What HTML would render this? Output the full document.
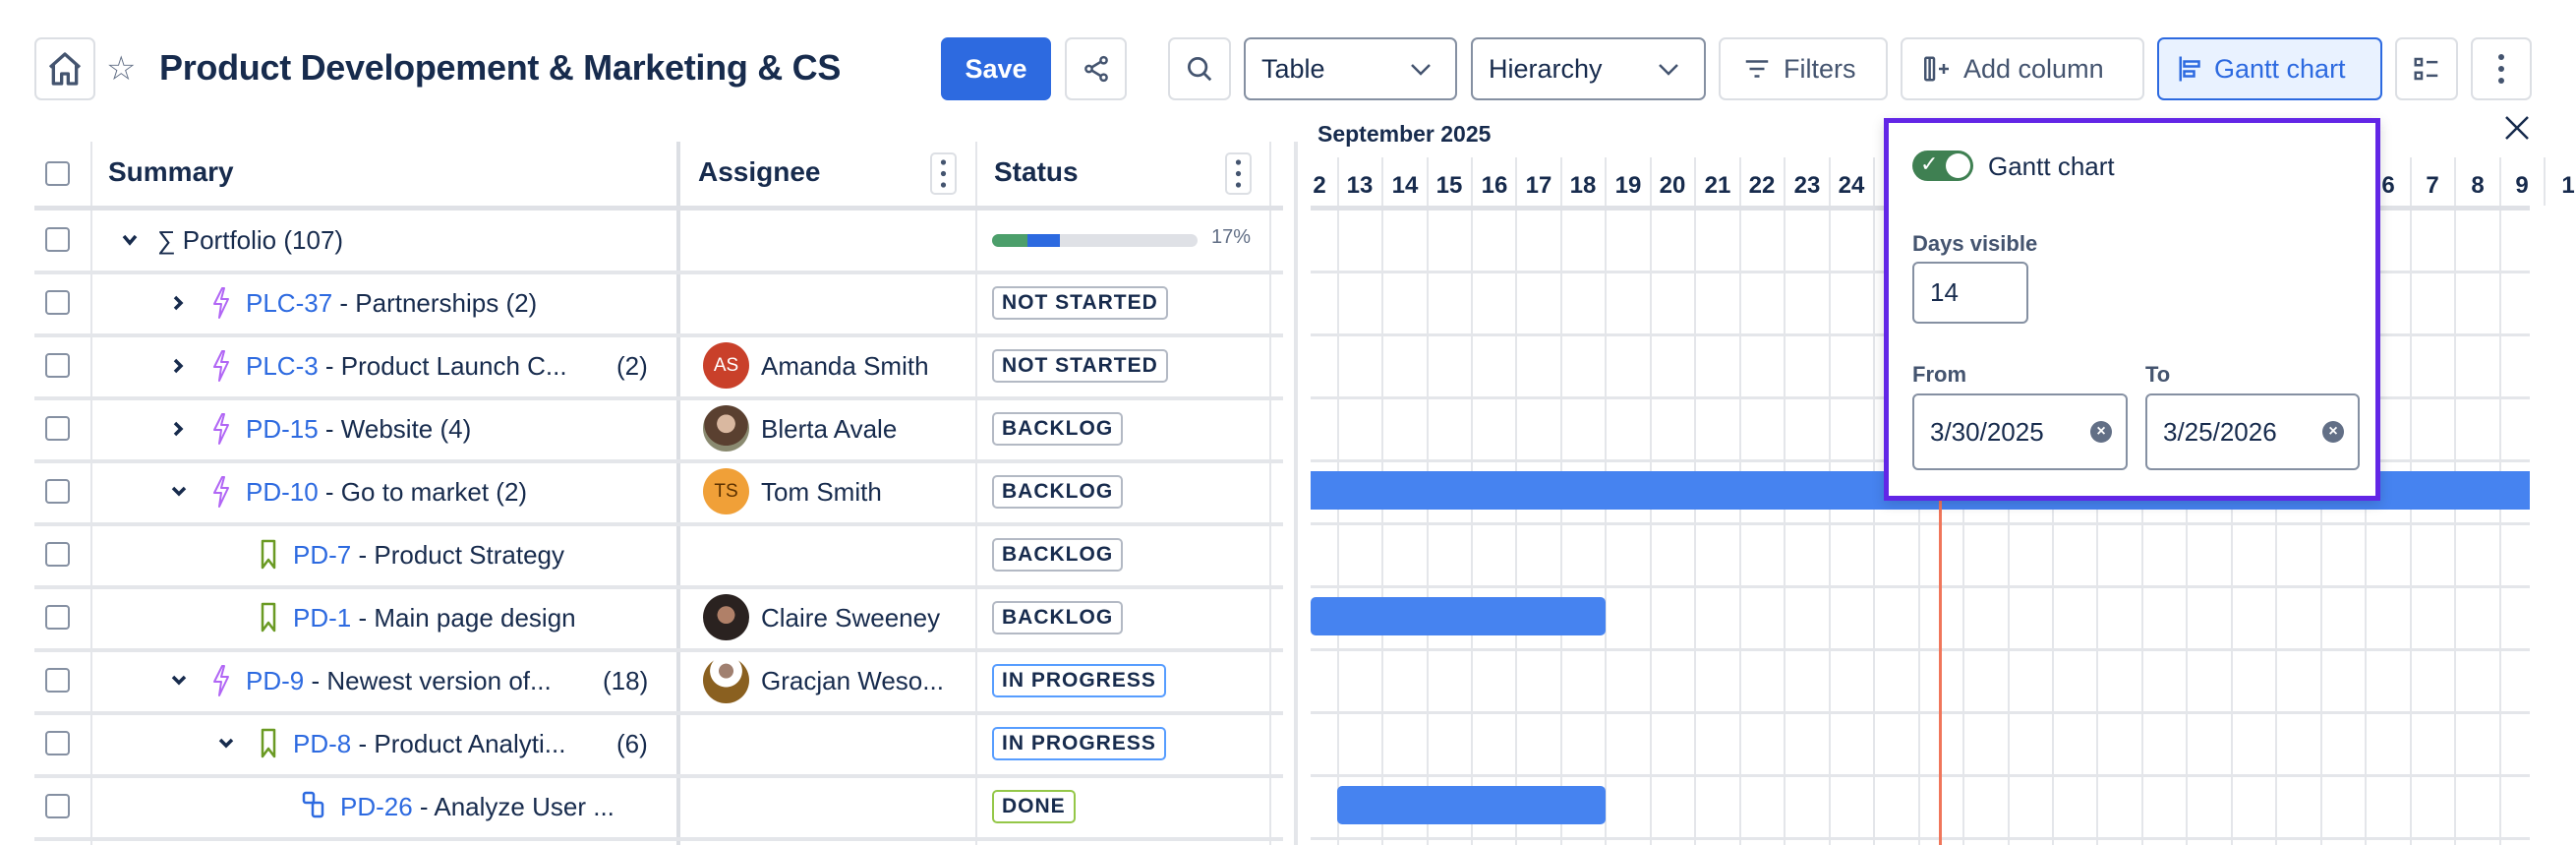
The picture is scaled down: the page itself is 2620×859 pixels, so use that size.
<!DOCTYPE html>
<html><head><meta charset="utf-8"><style>
*{box-sizing:border-box;margin:0;padding:0}
body{width:2620px;height:859px;overflow:hidden;background:#fff;font-family:"Liberation Sans",sans-serif;color:#172b4d;position:relative}
.a{position:absolute}
.btn{position:absolute;top:38px;height:64px;border:2px solid #dcdfe4;border-radius:7px;background:#fff;display:flex;align-items:center;font-size:27px;color:#44546f}
.dd{border-color:#8590a2;color:#172b4d;padding-left:16px}
.cb{position:absolute;left:46px;width:25px;height:25px;border:2.5px solid #8590a2;border-radius:4px;background:#fff}
.row{position:absolute;left:35px;width:1270px;height:4px;background:#e4e6ea}
.t{position:absolute;font-size:26px;white-space:nowrap;color:#172b4d;line-height:30px}
.k{color:#2d6ae0}
.loz{position:absolute;left:1009px;height:34px;border:2px solid #b3b9c4;border-radius:5px;font-size:21px;font-weight:bold;letter-spacing:1px;display:flex;align-items:center;padding:0 8px;color:#172b4d}
.av{position:absolute;left:715px;width:47px;height:47px;border-radius:50%;color:#fff;font-size:19px;display:flex;align-items:center;justify-content:center}
.inp{position:absolute;border:2px solid #8590a2;border-radius:6px;background:#fff;font-size:26px;display:flex;align-items:center;padding-left:16px}
.clr{position:absolute;width:22px;height:22px;border-radius:50%;background:#626f86;color:#fff;font-size:16px;font-weight:bold;display:flex;align-items:center;justify-content:center}
</style></head><body>

<!-- toolbar -->
<div class="btn" style="left:35px;width:62px;justify-content:center"><svg width="40" height="40" viewBox="0 0 24 24"><path d="M3 11 L12 3 L21 11 M5 9.5 V21 H10 V15 H14 V21 H19 V9.5" fill="none" stroke="#44546f" stroke-width="2" stroke-linejoin="round"/></svg></div>
<div class="a" style="left:108px;top:50px;font-size:34px;color:#626f86">☆</div>
<div class="a" style="left:162px;top:48px;font-size:36px;font-weight:bold;color:#172b4d;letter-spacing:-0.3px">Product Developement &amp; Marketing &amp; CS</div>
<div class="btn" style="left:957px;width:112px;background:#2d6ae0;border-color:#2d6ae0;color:#fff;font-weight:bold;justify-content:center">Save</div>
<div class="btn" style="left:1083px;width:63px;justify-content:center"><svg width="30" height="30" viewBox="0 0 24 24" fill="none" stroke="#44546f" stroke-width="2"><circle cx="18" cy="5" r="2.5"/><circle cx="6" cy="12" r="2.5"/><circle cx="18" cy="19" r="2.5"/><path d="M8.2 10.8 L15.8 6.2 M8.2 13.2 L15.8 17.8"/></svg></div>
<div class="btn" style="left:1188px;width:64px;justify-content:center"><svg width="30" height="30" viewBox="0 0 24 24" fill="none" stroke="#44546f" stroke-width="2.2"><circle cx="10.5" cy="10.5" r="7"/><path d="M15.5 15.5 L21 21"/></svg></div>
<div class="btn dd" style="left:1265px;width:217px">Table<svg class="a" style="left:167px;top:24px" width="22" height="14" viewBox="0 0 22 14"><path d="M2 2 L11 11 L20 2" fill="none" stroke="#44546f" stroke-width="2.5"/></svg></div>
<div class="btn dd" style="left:1496px;width:239px">Hierarchy<svg class="a" style="left:188px;top:24px" width="22" height="14" viewBox="0 0 22 14"><path d="M2 2 L11 11 L20 2" fill="none" stroke="#44546f" stroke-width="2.5"/></svg></div>
<div class="btn" style="left:1748px;width:172px;padding-left:22px"><svg width="30" height="30" viewBox="0 0 24 24" stroke="#44546f" stroke-width="2"><path d="M3 6H21M6 12H18M10 18H14"/></svg><span style="margin-left:12px">Filters</span></div>
<div class="btn" style="left:1933px;width:248px;padding-left:20px"><svg width="34" height="30" viewBox="0 0 26 24" fill="none" stroke="#44546f" stroke-width="2"><rect x="2" y="3" width="7" height="18" rx="1"/><path d="M5.5 3V21M13 12H21M17 8V16"/></svg><span style="margin-left:8px">Add column</span></div>
<div class="btn" style="left:2194px;width:229px;background:#e9f2ff;border-color:#2d6ae0;color:#2d6ae0;padding-left:18px"><svg width="30" height="32" viewBox="0 0 24 24" fill="none" stroke="#2d6ae0" stroke-width="2"><path d="M3 2V22"/><rect x="6" y="6" width="12" height="4"/><rect x="6" y="14" width="8" height="4"/></svg><span style="margin-left:8px">Gantt chart</span></div>
<div class="btn" style="left:2436px;width:64px;justify-content:center"><svg width="30" height="30" viewBox="0 0 24 24" fill="none" stroke="#44546f" stroke-width="2"><rect x="3" y="4" width="5" height="5"/><rect x="3" y="15" width="5" height="5"/><path d="M12 6.5H21M12 17.5H21"/></svg></div>
<div class="btn" style="left:2513px;width:62px;justify-content:center"><svg width="8" height="34" viewBox="0 0 8 34" fill="#44546f"><circle cx="4" cy="5" r="3"/><circle cx="4" cy="17" r="3"/><circle cx="4" cy="29" r="3"/></svg></div>

<!-- table header -->
<div class="cb" style="top:164px"></div>
<div class="t" style="left:110px;top:160px;font-size:28px;font-weight:bold">Summary</div>
<div class="t" style="left:710px;top:160px;font-size:28px;font-weight:bold">Assignee</div>
<div class="t" style="left:1011px;top:160px;font-size:28px;font-weight:bold">Status</div>
<div class="a" style="left:946px;top:155px;width:27px;height:43px;border:2px solid #dcdfe4;border-radius:5px"><svg width="23" height="39" viewBox="0 0 23 39" fill="#44546f"><circle cx="11.5" cy="8" r="2.6"/><circle cx="11.5" cy="19.5" r="2.6"/><circle cx="11.5" cy="31" r="2.6"/></svg></div>
<div class="a" style="left:1246px;top:155px;width:27px;height:43px;border:2px solid #dcdfe4;border-radius:5px"><svg width="23" height="39" viewBox="0 0 23 39" fill="#44546f"><circle cx="11.5" cy="8" r="2.6"/><circle cx="11.5" cy="19.5" r="2.6"/><circle cx="11.5" cy="31" r="2.6"/></svg></div>

<!-- column separators -->
<div class="a" style="left:92px;top:144px;width:2px;height:715px;background:#e4e6ea"></div>
<div class="a" style="left:688px;top:144px;width:4px;height:715px;background:#dcdfe4"></div>
<div class="a" style="left:992px;top:144px;width:2px;height:715px;background:#e4e6ea"></div>
<div class="a" style="left:1291px;top:144px;width:2px;height:715px;background:#e4e6ea"></div>
<div class="a" style="left:1316px;top:144px;width:4px;height:715px;background:#e4e6ea"></div>

<!-- row lines -->
<div class="row" style="top:209px;height:5px;background:#dfe1e6"></div>
<div class="row" style="top:275px"></div><div class="row" style="top:339px"></div><div class="row" style="top:403px"></div>
<div class="row" style="top:467px"></div><div class="row" style="top:531px"></div><div class="row" style="top:595px"></div>
<div class="row" style="top:659px"></div><div class="row" style="top:723px"></div><div class="row" style="top:787px"></div><div class="row" style="top:851px"></div>

<!-- checkboxes -->
<div class="cb" style="top:231px"></div><div class="cb" style="top:295px"></div><div class="cb" style="top:359px"></div>
<div class="cb" style="top:423px"></div><div class="cb" style="top:487px"></div><div class="cb" style="top:551px"></div>
<div class="cb" style="top:615px"></div><div class="cb" style="top:679px"></div><div class="cb" style="top:743px"></div><div class="cb" style="top:807px"></div>

<svg class="a" style="left:0;top:0" width="1320" height="859">
<defs>
<path id="bolt" d="M8 0 L0 16 L7 16 L5 30 L14 11 L7 11 L10 0 Z" fill="none" stroke="#b166f5" stroke-width="2" stroke-linejoin="round"/>
<path id="bm" d="M1 1 H13 V28 L7 20 L1 28 Z" fill="none" stroke="#6a9a23" stroke-width="2.5" stroke-linejoin="round"/>
</defs>
<path d="M126 240 L132 247 L138 240" fill="none" stroke="#172b4d" stroke-width="3.5"/>
<path d="M178 302 L184 308 L178 314" fill="none" stroke="#172b4d" stroke-width="3.5"/>
<path d="M178 366 L184 372 L178 378" fill="none" stroke="#172b4d" stroke-width="3.5"/>
<path d="M178 430 L184 436 L178 442" fill="none" stroke="#172b4d" stroke-width="3.5"/>
<path d="M176 496 L182 502 L188 496" fill="none" stroke="#172b4d" stroke-width="3.5"/>
<path d="M176 688 L182 694 L188 688" fill="none" stroke="#172b4d" stroke-width="3.5"/>
<path d="M224 752 L230 758 L236 752" fill="none" stroke="#172b4d" stroke-width="3.5"/>
<use href="#bolt" x="218" y="293"/><use href="#bolt" x="218" y="357"/><use href="#bolt" x="218" y="421"/>
<use href="#bolt" x="218" y="485"/><use href="#bolt" x="218" y="677"/>
<use href="#bm" x="266" y="549"/><use href="#bm" x="266" y="613"/><use href="#bm" x="266" y="741"/>
<g fill="none" stroke="#2d6ae0" stroke-width="2.5"><rect x="309" y="806" width="10" height="10" rx="2"/><rect x="318" y="816" width="10" height="14" rx="2"/></g>
<rect x="1009" y="238" width="209" height="13" rx="6.5" fill="#dfe1e6"/>
<path d="M1015.5 238 H1045 V251 H1015.5 A6.5 6.5 0 0 1 1015.5 238Z" fill="#4c9f6b"/>
<rect x="1045" y="238" width="33" height="13" fill="#2d6ae0"/>
</svg>

<!-- summary texts -->
<div class="t" style="left:160px;top:229px">∑ Portfolio (107)</div>
<div class="t" style="left:250px;top:293px"><span class="k">PLC-37</span> - Partnerships (2)</div>
<div class="t" style="left:250px;top:357px"><span class="k">PLC-3</span> - Product Launch C...</div><div class="t" style="left:627px;top:357px">(2)</div>
<div class="t" style="left:250px;top:421px"><span class="k">PD-15</span> - Website (4)</div>
<div class="t" style="left:250px;top:485px"><span class="k">PD-10</span> - Go to market (2)</div>
<div class="t" style="left:298px;top:549px"><span class="k">PD-7</span> - Product Strategy</div>
<div class="t" style="left:298px;top:613px"><span class="k">PD-1</span> - Main page design</div>
<div class="t" style="left:250px;top:677px"><span class="k">PD-9</span> - Newest version of...</div><div class="t" style="left:613px;top:677px">(18)</div>
<div class="t" style="left:298px;top:741px"><span class="k">PD-8</span> - Product Analyti...</div><div class="t" style="left:627px;top:741px">(6)</div>
<div class="t" style="left:346px;top:805px"><span class="k">PD-26</span> - Analyze User ...</div>

<!-- assignees -->
<div class="av" style="top:348px;background:#c9402a">AS</div><div class="t" style="left:774px;top:357px">Amanda Smith</div>
<div class="av" style="top:412px;background:radial-gradient(circle at 50% 40%,#d9b8a0 0 25%,#5a4030 26% 60%,#8a8a70 61%)"></div><div class="t" style="left:774px;top:421px">Blerta Avale</div>
<div class="av" style="top:476px;background:#f0a038;color:#5a3000">TS</div><div class="t" style="left:774px;top:485px">Tom Smith</div>
<div class="av" style="top:604px;background:radial-gradient(circle at 50% 45%,#b08068 0 25%,#2a2220 26%)"></div><div class="t" style="left:774px;top:613px">Claire Sweeney</div>
<div class="av" style="top:668px;background:radial-gradient(circle at 50% 30%,#a08070 0 18%,#fff 19% 40%,#8a6020 41%)"></div><div class="t" style="left:774px;top:677px">Gracjan Weso...</div>

<!-- statuses -->
<div class="a" style="left:1232px;top:230px;font-size:20px;color:#626f86">17%</div>
<div class="loz" style="top:291px">NOT STARTED</div>
<div class="loz" style="top:355px">NOT STARTED</div>
<div class="loz" style="top:419px">BACKLOG</div>
<div class="loz" style="top:483px">BACKLOG</div>
<div class="loz" style="top:547px">BACKLOG</div>
<div class="loz" style="top:611px">BACKLOG</div>
<div class="loz" style="top:675px;border-color:#579dff">IN PROGRESS</div>
<div class="loz" style="top:739px;border-color:#579dff">IN PROGRESS</div>
<div class="loz" style="top:803px;border-color:#94c748">DONE</div>

<!-- gantt -->
<svg class="a" style="left:0;top:0" width="2620" height="859">
<text x="1340" y="144" font-family="Liberation Sans" font-weight="bold" font-size="23" fill="#172b4d">September 2025</text>
<path d="M2549 119 L2571 141 M2571 119 L2549 141" stroke="#172b4d" stroke-width="2.5"/>
<g stroke="#e4e6ea" stroke-width="2">
<path d="M1361 160V859M1406 160V859M1452 160V859M1497 160V859M1542 160V859M1588 160V859M1633 160V859M1679 160V859M1724 160V859M1770 160V859M1815 160V859M1861 160V859M1906 160V859M1952 160V859M1997 160V859M2043 160V859M2088 160V859M2133 160V859M2179 160V859M2224 160V859M2270 160V859M2315 160V859M2361 160V859M2406 160V859M2452 160V859M2497 160V859M2543 160V859M2588 160V209"/>
</g>
<g fill="#e4e6ea"><rect x="1333" y="209" width="1240" height="5" fill="#dfe1e6"/>
<rect x="1333" y="275" width="1240" height="3"/><rect x="1333" y="339" width="1240" height="3"/><rect x="1333" y="403" width="1240" height="3"/><rect x="1333" y="467" width="1240" height="3"/><rect x="1333" y="531" width="1240" height="3"/><rect x="1333" y="595" width="1240" height="3"/><rect x="1333" y="659" width="1240" height="3"/><rect x="1333" y="723" width="1240" height="3"/><rect x="1333" y="787" width="1240" height="3"/><rect x="1333" y="851" width="1240" height="3"/></g>
<g font-family="Liberation Sans" font-weight="bold" font-size="24" fill="#172b4d" text-anchor="middle">
<text x="1342" y="196">2</text><text x="1383" y="196">13</text><text x="1429" y="196">14</text><text x="1474" y="196">15</text><text x="1520" y="196">16</text><text x="1565" y="196">17</text><text x="1610" y="196">18</text><text x="1656" y="196">19</text><text x="1701" y="196">20</text><text x="1747" y="196">21</text><text x="1792" y="196">22</text><text x="1838" y="196">23</text><text x="1883" y="196">24</text><text x="1929" y="196">25</text><text x="2429" y="196">6</text><text x="2474" y="196">7</text><text x="2520" y="196">8</text><text x="2565" y="196">9</text><text x="2612" y="196">1</text></g>
<rect x="1333" y="479" width="1240" height="39" fill="#4683f0"/>
<rect x="1333" y="607" width="300" height="39" rx="5" fill="#4683f0"/>
<rect x="1360" y="799" width="273" height="39" rx="5" fill="#4683f0"/>
<rect x="1972" y="213" width="3" height="646" fill="#f0765a"/>
</svg>

<!-- popover -->
<div class="a" style="left:1916px;top:120px;width:505px;height:389px;background:#fff;border:5px solid #6226e6;box-shadow:0 4px 12px rgba(0,0,0,.15)">
  <div class="a" style="left:24px;top:28px;width:62px;height:31px;border-radius:16px;background:#3f8052"><span class="a" style="left:8px;top:1px;color:#fff;font-size:22px">✓</span><div class="a" style="left:34px;top:3px;width:25px;height:25px;border-radius:50%;background:#fff"></div></div>
  <div class="a" style="left:101px;top:29px;font-size:26px;color:#172b4d">Gantt chart</div>
  <div class="a" style="left:24px;top:110px;font-size:22px;font-weight:bold;color:#44546f">Days visible</div>
  <div class="inp" style="left:24px;top:141px;width:118px;height:63px">14</div>
  <div class="a" style="left:24px;top:243px;font-size:22px;font-weight:bold;color:#44546f">From</div>
  <div class="a" style="left:261px;top:243px;font-size:22px;font-weight:bold;color:#44546f">To</div>
  <div class="inp" style="left:24px;top:275px;width:219px;height:78px">3/30/2025<div class="clr" style="left:179px;top:26px">×</div></div>
  <div class="inp" style="left:261px;top:275px;width:218px;height:78px">3/25/2026<div class="clr" style="left:178px;top:26px">×</div></div>
</div>
</body></html>
